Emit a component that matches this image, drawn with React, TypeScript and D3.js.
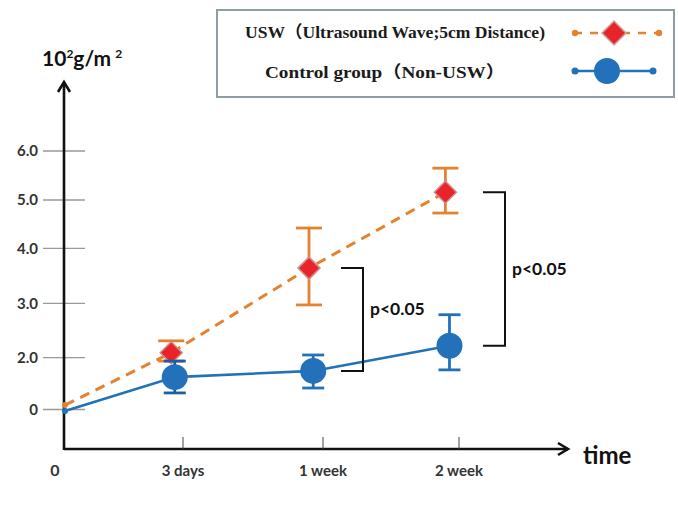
import React from "react";
import * as d3 from "d3";

const categories = ["0", "3 days", "1 week", "2 week"];
const yTickValues = [0, 2, 3, 4, 5, 6];
const yTickLabels = ["0", "2.0", "3.0", "4.0", "5.0", "6.0"];

const uswMean = [0.17, 2.09, 3.64, 5.16];
const uswLow = [null, 1.87, 2.97, 4.73];
const uswHigh = [null, 2.31, 4.42, 5.65];

const ctrlMean = [-0.06, 1.25, 1.49, 2.22];
const ctrlLow = [null, 0.64, 0.83, 1.53];
const ctrlHigh = [null, 1.87, 2.05, 2.79];

const sigLabels = [null, null, "p<0.05", "p<0.05"];

const legendLabels = ["USW（Ultrasound Wave;5cm Distance)", "Control group（Non-USW）"];

// layout
const X_RANGE = [65, 183, 323, 459];
const Y_RANGE = [409.5, 357.7, 303.3, 248.3, 200, 151];
const AXIS_Y = 449;
const AXIS_X = 64;
const ORANGE = "#E5822F";
const RED = "#E8242A";
const BLUE = "#2271BA";
const DARKBLUE = "#1D5E9E";
const LABEL_FONT = "Lato, 'Open Sans', sans-serif";

export default function App() {
  const x = d3.scaleLinear().domain([0, 1, 2, 3]).range(X_RANGE);
  const y = d3.scaleLinear().domain(yTickValues).range(Y_RANGE);

  const xr = (i: number) => x(Math.max(0, i - 0.1));
  const xb = (i: number) => x(Math.max(0, i - 0.07));

  const uswLine = d3
    .line<number>()
    .x((_, i) => xr(i))
    .y((d) => y(d));
  const ctrlLine = d3
    .line<number>()
    .x((_, i) => xb(i))
    .y((d) => y(d));

  const diamond = (cx: number, cy: number, s: number) =>
    `M${cx},${cy - s}L${cx + s},${cy}L${cx},${cy + s}L${cx - s},${cy}Z`;

  return (
    <svg
      width={678}
      height={511}
      style={{ position: "absolute", left: 0, top: 0, background: "#fff" }}
    >
      {/* legend */}
      <rect x={217} y={10} width={457} height={87} fill="#fff" stroke="#8d9ea3" strokeWidth={2} />
      <text
        x={245}
        y={38}
        fontFamily="'Liberation Serif', 'Noto Sans CJK SC', serif"
        fontWeight={700}
        fontSize={17}
        fill="#1a1a1a"
        textLength={300}
        lengthAdjust="spacingAndGlyphs"
      >
        {legendLabels[0]}
      </text>
      <text
        x={265}
        y={78}
        fontFamily="'Liberation Serif', 'Noto Sans CJK SC', serif"
        fontWeight={700}
        fontSize={17}
        fill="#1a1a1a"
        textLength={240}
        lengthAdjust="spacingAndGlyphs"
      >
        {legendLabels[1]}
      </text>
      <line x1={574} x2={660} y1={33} y2={33} stroke={ORANGE} strokeWidth={2.5} strokeDasharray="8,8" />
      <circle cx={575} cy={33} r={3.2} fill={ORANGE} />
      <circle cx={659} cy={33} r={3.2} fill={ORANGE} />
      <path d={diamond(614, 33, 12)} fill={RED} stroke="#c9a3a3" strokeWidth={1.5} />
      <line x1={575} x2={653} y1={71} y2={71} stroke={BLUE} strokeWidth={2.5} />
      <circle cx={575} cy={71} r={3.5} fill={BLUE} />
      <circle cx={653} cy={71} r={3.5} fill={BLUE} />
      <circle cx={607} cy={71} r={13} fill={BLUE} />

      {/* y axis ticks */}
      {yTickValues.map((v, i) => (
        <g key={"yt" + i}>
          <line x1={43} x2={85} y1={y(v)} y2={y(v)} stroke="#999" strokeWidth={1.3} />
          <text
            x={38}
            y={y(v)}
            dy="0.35em"
            textAnchor="end"
            fontFamily={LABEL_FONT}
            fontWeight={700}
            fontSize={15}
            fill="#333"
          >
            {yTickLabels[i]}
          </text>
        </g>
      ))}

      {/* axes */}
      <line x1={AXIS_X} x2={AXIS_X} y1={AXIS_Y + 1} y2={82} stroke="#111" strokeWidth={2.6} />
      <path d={`M${AXIS_X - 6},${92}L${AXIS_X},${82}L${AXIS_X + 6},${92}`} fill="none" stroke="#111" strokeWidth={2.6} />
      <line x1={AXIS_X} x2={568} y1={AXIS_Y} y2={AXIS_Y} stroke="#111" strokeWidth={2.6} />
      <path d={`M${558},${AXIS_Y - 6}L${568},${AXIS_Y}L${558},${AXIS_Y + 6}`} fill="none" stroke="#111" strokeWidth={2.6} />

      {/* y axis title */}
      <text x={42} y={66} fontFamily={LABEL_FONT} fontWeight={700} fontSize={21} fill="#111">
        10
        <tspan fontSize={12} dy={-8}>2</tspan>
        <tspan dy={8}>g/m</tspan>
        <tspan fontSize={12} dy={-8} dx={4}>2</tspan>
      </text>

      {/* x ticks */}
      {categories.map((c, i) => (
        <g key={"xt" + i}>
          {i > 0 && (
            <line x1={x(i)} x2={x(i)} y1={AXIS_Y - 12} y2={AXIS_Y} stroke="#444" strokeWidth={1} />
          )}
          <text
            x={i === 0 ? 55 : x(i)}
            y={476}
            textAnchor="middle"
            fontFamily={LABEL_FONT}
            fontWeight={700}
            fontSize={i === 0 ? 16 : 15}
            fill="#333"
          >
            {c}
          </text>
        </g>
      ))}
      <text x={583} y={464} fontFamily={LABEL_FONT} fontWeight={700} fontSize={24} fill="#111">
        time
      </text>

      {/* lines */}
      <path d={ctrlLine(ctrlMean) || ""} fill="none" stroke={BLUE} strokeWidth={2.6} />
      <path d={uswLine(uswMean) || ""} fill="none" stroke={ORANGE} strokeWidth={3} strokeDasharray="10,7" />

      {/* USW error bars and diamonds */}
      {uswMean.map((m, i) =>
        uswLow[i] == null ? null : (
          <g key={"ue" + i} stroke={ORANGE} strokeWidth={2.8}>
            <line x1={xr(i)} x2={xr(i)} y1={y(uswLow[i] as number)} y2={y(uswHigh[i] as number)} />
            <line x1={xr(i) - 13} x2={xr(i) + 13} y1={y(uswHigh[i] as number)} y2={y(uswHigh[i] as number)} />
            <line x1={xr(i) - 13} x2={xr(i) + 13} y1={y(uswLow[i] as number)} y2={y(uswLow[i] as number)} />
          </g>
        )
      )}
      {uswMean.map((m, i) =>
        i === 0 ? (
          <circle key={"ud" + i} cx={xr(i)} cy={y(m)} r={3} fill={ORANGE} />
        ) : (
          <path key={"ud" + i} d={diamond(xr(i), y(m), 11)} fill={RED} stroke="#d08a8a" strokeWidth={1.5} />
        )
      )}

      {/* control error bars and circles */}
      {ctrlMean.map((m, i) =>
        ctrlLow[i] == null ? null : (
          <g key={"ce" + i} stroke={i === 1 ? DARKBLUE : BLUE} strokeWidth={2.8}>
            <line x1={xb(i)} x2={xb(i)} y1={y(ctrlLow[i] as number)} y2={y(ctrlHigh[i] as number)} />
            <line x1={xb(i) - 11} x2={xb(i) + 11} y1={y(ctrlHigh[i] as number)} y2={y(ctrlHigh[i] as number)} />
            <line x1={xb(i) - 11} x2={xb(i) + 11} y1={y(ctrlLow[i] as number)} y2={y(ctrlLow[i] as number)} />
          </g>
        )
      )}
      {ctrlMean.map((m, i) =>
        i === 0 ? (
          <circle key={"cd" + i} cx={xb(i)} cy={y(m)} r={3} fill={BLUE} />
        ) : (
          <circle key={"cd" + i} cx={xb(i)} cy={y(m)} r={13} fill={BLUE} />
        )
      )}

      {/* significance brackets */}
      {sigLabels.map((s, i) => {
        if (!s) return null;
        const bx = x(i) + (i === 2 ? 40 : 46);
        const y1 = y(uswMean[i]);
        const y2 = y(ctrlMean[i]);
        return (
          <g key={"sig" + i}>
            <path
              d={`M${bx - 22},${y1}H${bx}V${y2}H${bx - 22}`}
              fill="none"
              stroke="#111"
              strokeWidth={2}
            />
            <text
              x={bx + 7}
              y={(y1 + y2) / 2 + (i === 2 ? -11 : 0)}
              dy="0.35em"
              fontFamily={LABEL_FONT}
              fontWeight={700}
              fontSize={17.5}
              fill="#111"
            >
              {s}
            </text>
          </g>
        );
      })}
    </svg>
  );
}
